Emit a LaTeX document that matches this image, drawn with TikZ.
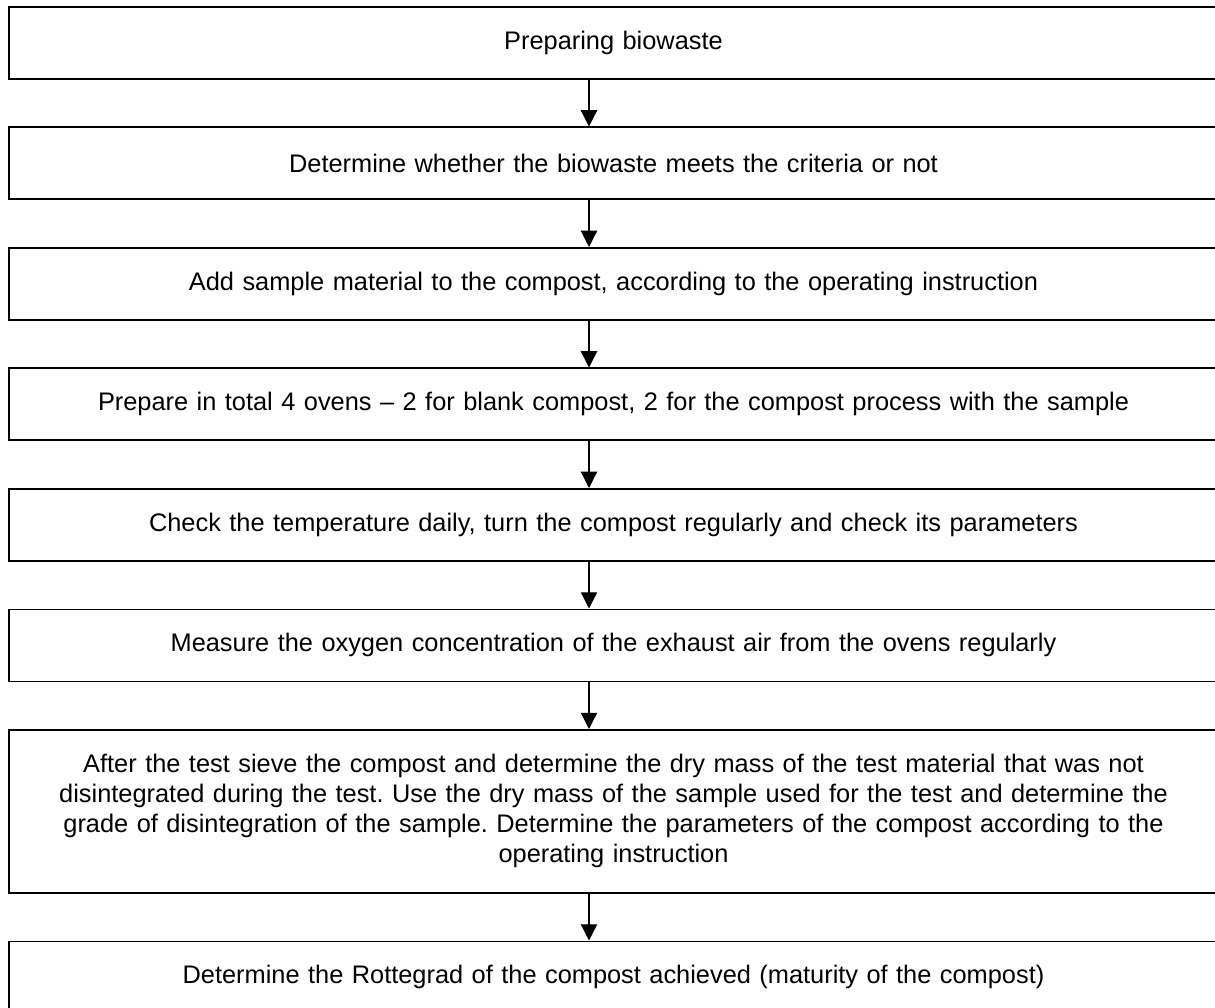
\documentclass[tikz,border=0pt]{standalone}
\usepackage{fontspec}
\setmainfont{Liberation Sans}
\usepackage{tikz}
\usetikzlibrary{arrows.meta,positioning}

\begin{document}
\frenchspacing
\begin{tikzpicture}[
    node distance=18.7pt,
    >={Triangle[length=6.5pt,width=6.5pt]},
    stepbox/.style={
        rectangle, draw, line width=0.7pt,
        minimum width=483.6pt, minimum height=28.8pt,
        inner sep=0pt, text width=470pt, align=center,
        font=\fontsize{10.15}{12}\selectfont
    },
    arr/.style={->, line width=0.5pt}
]
    \useasboundingbox (0,0) rectangle (486pt,-403.2pt);

    \node[stepbox, anchor=north] (s1) at (245.4pt,-2.4pt) {Preparing biowaste};
    \node[stepbox, below=of s1] (s2) {Determine whether the biowaste meets the criteria or not};
    \node[stepbox, below=of s2] (s3) {Add sample material to the compost, according to the operating instruction};
    \node[stepbox, below=of s3] (s4) {Prepare in total 4 ovens -- 2 for blank compost, 2 for the compost process with the sample};
    \node[stepbox, below=of s4] (s5) {Check the temperature daily, turn the compost regularly and check its parameters};
    \node[stepbox, below=of s5] (s6) {Measure the oxygen concentration of the exhaust air from the ovens regularly};
    \node[stepbox, below=of s6, minimum height=65.2pt] (s7) {After the test sieve the compost and determine the dry mass of the test material that was not\\disintegrated during the test. Use the dry mass of the sample used for the test and determine the\\grade of disintegration of the sample. Determine the parameters of the compost according to the\\operating instruction};
    \node[stepbox, below=of s7] (s8) {Determine the Rottegrad of the compost achieved (maturity of the compost)};

    \foreach \a/\b in {s1/s2,s2/s3,s3/s4,s4/s5,s5/s6,s6/s7,s7/s8}
        \draw[arr] ([xshift=-9.8pt]\a.south) -- ([xshift=-9.8pt]\b.north);
\end{tikzpicture}
\end{document}
